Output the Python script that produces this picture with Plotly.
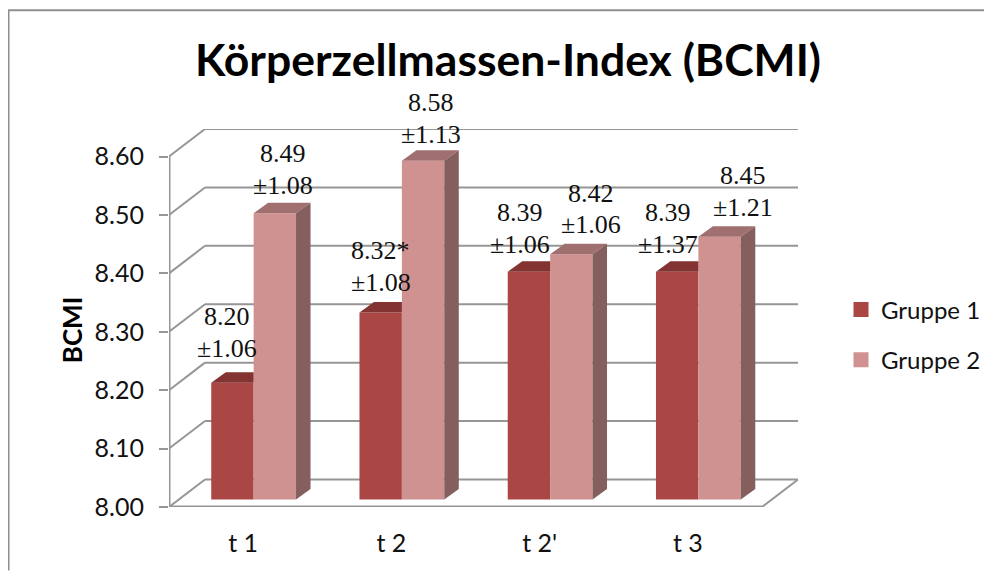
import plotly.graph_objects as go

CATEGORIES = ["t 1", "t 2", "t 2'", "t 3"]
GRUPPE_1 = [8.20, 8.32, 8.39, 8.39]
GRUPPE_2 = [8.49, 8.58, 8.42, 8.45]
MEANS_1 = ["8.20", "8.32*", "8.39", "8.39"]
MEANS_2 = ["8.49", "8.58", "8.42", "8.45"]
SDS_1 = ["±1.06", "±1.08", "±1.06", "±1.37"]
SDS_2 = ["±1.08", "±1.13", "±1.06", "±1.21"]
Y_TICKS = [8.00, 8.10, 8.20, 8.30, 8.40, 8.50, 8.60]

# the page body has an 8px margin, so the figure fills what is left of the window
PAGE_W, PAGE_H = 992, 571
BODY = 8
PLOT_L, PLOT_R = 169, 798
PLOT_T, PLOT_B = 129, 507.5
PX_PER_CAT = 148.25
PX_PER_UNIT = 584.0

RED = "#AA4643"
RED_TOP = "#833331"
PINK = "#D09291"
PINK_TOP = "#A07070"
PINK_SIDE = "#845F5E"
GRID = "#969696"
FONT = "Lato, sans-serif"


def dx(px):
    return px / PX_PER_CAT


def dy(px):
    return px / PX_PER_UNIT


def paper_x(px):
    return (px - PLOT_L) / (PLOT_R - PLOT_L)


def paper_y(px):
    return (PLOT_B - px) / (PLOT_B - PLOT_T)


BAR_W = dx(42.4)
BAR_SHIFT = dx(10.5)
BAR_LIFT = dy(7.5)
BAR_DX, BAR_DY = dx(14.5), dy(10.5)
WALL_DX, WALL_DY = dx(36), dy(27.5)
X_MIN = -0.5
X_MAX = len(CATEGORIES) - 0.5


def polygons(faces):
    xs, ys = [], []
    for face in faces:
        xs += [p[0] for p in face] + [face[0][0], None]
        ys += [p[1] for p in face] + [face[0][1], None]
    return xs, ys


def face_trace(faces, color):
    xs, ys = polygons(faces)
    return go.Scatter(
        x=xs, y=ys, mode="lines", fill="toself", fillcolor=color,
        line=dict(width=0, color=color), hoverinfo="skip", showlegend=False,
    )


def line_shape(x0, y0, x1, y1, width=2, color=GRID):
    return dict(
        type="line", xref="x", yref="y", x0=x0, y0=y0, x1=x1, y1=y1,
        line=dict(color=color, width=width), layer="below",
    )


def border_shape(x0, y0, x1, y1):
    return dict(
        type="line", xref="paper", yref="paper",
        x0=paper_x(x0), y0=paper_y(y0), x1=paper_x(x1), y1=paper_y(y1),
        line=dict(color="#8E8E8E", width=2),
    )


fig = go.Figure()

xs = list(range(len(CATEGORIES)))
base = 8.0 + BAR_LIFT
for name, values, color, offset in [
    ("Gruppe 1", GRUPPE_1, RED, -BAR_W / 2),
    ("Gruppe 2", GRUPPE_2, PINK, BAR_W / 2),
]:
    fig.add_trace(
        go.Bar(
            name=name,
            x=[i + BAR_SHIFT + offset for i in xs],
            y=[v - 8.0 for v in values],
            base=base,
            width=BAR_W,
            marker=dict(color=color, line=dict(width=0)),
            showlegend=False,
        )
    )

# 3D faces of the columns
tops_1, tops_2, sides_2 = [], [], []
for i, v1, v2 in zip(xs, GRUPPE_1, GRUPPE_2):
    mid = i + BAR_SHIFT
    t1 = v1 + BAR_LIFT
    t2 = v2 + BAR_LIFT
    tops_1.append([(mid - BAR_W, t1), (mid - BAR_W + BAR_DX, t1 + BAR_DY), (mid, t1 + BAR_DY), (mid, t1)])
    tops_2.append([(mid, t2), (mid + BAR_DX, t2 + BAR_DY), (mid + BAR_W + BAR_DX, t2 + BAR_DY), (mid + BAR_W, t2)])
    sides_2.append([
        (mid + BAR_W, base), (mid + BAR_W + BAR_DX, base + BAR_DY),
        (mid + BAR_W + BAR_DX, t2 + BAR_DY), (mid + BAR_W, t2),
    ])
fig.add_trace(face_trace(tops_1, RED_TOP))
fig.add_trace(face_trace(tops_2, PINK_TOP))
fig.add_trace(face_trace(sides_2, PINK_SIDE))

# bigger legend swatches than a bar trace can give
for name, color in [("Gruppe 1", RED), ("Gruppe 2", PINK)]:
    fig.add_trace(
        go.Scatter(
            x=[None], y=[None], mode="markers", name=name, legendgroup=name,
            marker=dict(symbol="square", size=15, color=color),
        )
    )

# back wall grid, side wall and floor
shapes = []
for tick in Y_TICKS:
    shapes.append(line_shape(X_MIN, tick, X_MIN + WALL_DX, tick + WALL_DY))
    shapes.append(line_shape(X_MIN + WALL_DX, tick + WALL_DY, X_MAX + WALL_DX, tick + WALL_DY))
shapes.append(line_shape(X_MAX, 8.0, X_MAX + WALL_DX, 8.0 + WALL_DY))
shapes.append(line_shape(X_MIN, 8.0, X_MAX, 8.0, width=3))
shapes.append(line_shape(X_MIN, 8.0, X_MIN, Y_TICKS[-1], width=3))
shapes.append(border_shape(BODY + 0.5, 10, BODY + 0.5, PAGE_H))
shapes.append(border_shape(BODY, 10, PAGE_W, 10))

# value labels, nudged by hand to where the reference has them
NUDGE_1 = [(-5, 50), (0, 46), (-9, 43), (-9, 43)]
NUDGE_2 = [(8, 44), (8, 42), (20, 45), (23, 45)]
LINE_GAP = 31.5
annotations = []
for means, sds, values, offset, nudges in [
    (MEANS_1, SDS_1, GRUPPE_1, -BAR_W / 2, NUDGE_1),
    (MEANS_2, SDS_2, GRUPPE_2, BAR_W / 2, NUDGE_2),
]:
    for i, mean, sd, v, (nx, ny) in zip(xs, means, sds, values, nudges):
        for text, line_shift in [(mean, LINE_GAP / 2), (sd, -LINE_GAP / 2)]:
            annotations.append(
                dict(
                    x=i + BAR_SHIFT + offset, y=v + BAR_LIFT, xref="x", yref="y",
                    text=text, showarrow=False, xanchor="center", yanchor="middle",
                    xshift=nx, yshift=ny + line_shift,
                    font=dict(family="Liberation Serif", size=26, color="#111111"),
                )
            )
annotations.append(
    dict(
        x=paper_x(71.5), y=paper_y(330), xref="paper", yref="paper",
        text="<b>BCMI</b>", showarrow=False, textangle=-90,
        xanchor="center", yanchor="middle",
        font=dict(family=FONT, size=26, color="black"),
    )
)

fig.update_layout(
    width=PAGE_W - BODY,
    height=PAGE_H - BODY,
    autosize=False,
    margin=dict(l=PLOT_L - BODY, r=PAGE_W - PLOT_R, t=PLOT_T - BODY, b=PAGE_H - PLOT_B, pad=0),
    paper_bgcolor="white",
    plot_bgcolor="white",
    font=dict(family=FONT, color="#111111", size=25),
    barmode="overlay",
    title=dict(
        text="<b>Körperzellmassen-Index (BCMI)</b>",
        x=(508 - BODY) / (PAGE_W - BODY), xanchor="center",
        y=1 - (60 - BODY) / (PAGE_H - BODY), yanchor="middle",
        font=dict(family=FONT, size=44.5, color="black"),
    ),
    legend=dict(
        x=(841 - BODY) / (PAGE_W - BODY), xref="container", xanchor="left",
        y=1 - (335 - BODY) / (PAGE_H - BODY), yref="container", yanchor="middle",
        font=dict(size=24), traceorder="grouped", itemwidth=30,
        tracegroupgap=16, bgcolor="rgba(0,0,0,0)",
    ),
    shapes=shapes,
    annotations=annotations,
)
fig.update_xaxes(
    range=[X_MIN, X_MAX + WALL_DX],
    tickmode="array", tickvals=xs, ticktext=CATEGORIES,
    showgrid=False, zeroline=False, showline=False, ticks="",
    ticklabelstandoff=19,
    tickfont=dict(size=25),
)
fig.update_yaxes(
    range=[8.0, Y_TICKS[-1] + WALL_DY],
    tickmode="array", tickvals=Y_TICKS, tickformat=".2f",
    showgrid=False, zeroline=False, showline=False,
    ticks="outside", ticklen=9, tickwidth=2, tickcolor=GRID,
    ticklabelstandoff=10,
    tickfont=dict(size=25),
)

fig.write_html("out.html")
